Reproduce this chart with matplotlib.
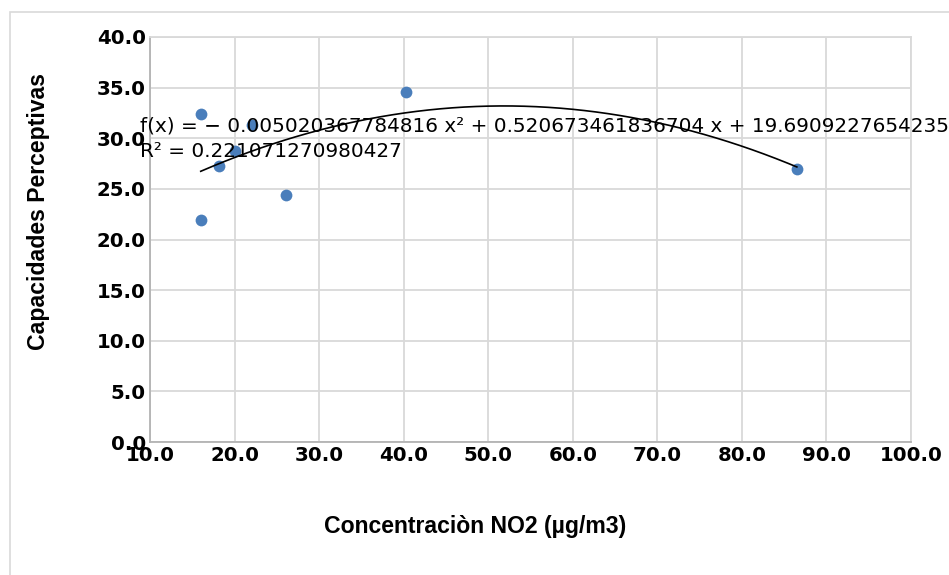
import numpy as np
import matplotlib
matplotlib.use('Agg')
import matplotlib.pyplot as plt
from matplotlib.patches import Rectangle

# NO2 concentration vs perceptive capacities
no2 = [16.0, 16.0, 18.2, 20.1, 22.1, 26.1, 40.3, 86.5]
capacidades = [32.4, 21.9, 27.3, 28.7, 31.3, 24.4, 34.6, 27.0]

# polynomial trendline (order 2) coefficients, highest power first
coef = [-0.005020367784816, 0.520673461836704, 19.6909227654235]
r2 = 0.221071270980427

xticks = np.arange(10, 101, 10)
yticks = np.arange(0, 41, 5)

fig = plt.figure(figsize=(9.49, 5.75), dpi=100)
ax = fig.add_axes([150/949, 1-442/575, 761/949, 405/575])

# outer chart border
fig.patches.append(Rectangle((10/949, -0.1), 1.2, 1.1 - 12/575, transform=fig.transFigure,
                             fill=False, edgecolor='#d9d9d9', linewidth=1.2))

ax.scatter(no2, capacidades, s=72, color='#4a7ebb', zorder=3, linewidths=0)

xs = np.linspace(min(no2), max(no2), 200)
ax.plot(xs, np.polyval(coef, xs), color='black', linewidth=1.2, zorder=4)

ax.set_xlim(10, 100)
ax.set_ylim(0, 40)
ax.set_xticks(xticks)
ax.set_yticks(yticks)
ax.set_xticklabels(['%.1f' % v for v in xticks])
ax.set_yticklabels(['%.1f' % v for v in yticks])
ax.tick_params(length=0, labelsize=14.2, pad=3)
for lab in ax.get_xticklabels() + ax.get_yticklabels():
    lab.set_fontweight('bold')
    lab.set_family('DejaVu Sans')

ax.grid(True, color='#d9d9d9', linewidth=1.3)
ax.set_axisbelow(True)
for sp in ax.spines.values():
    sp.set_color('#d9d9d9')
    sp.set_linewidth(1.3)
ax.spines['left'].set_color('#b3b3b3')
ax.spines['bottom'].set_color('#b3b3b3')

ax.set_xlabel('Concentraciòn NO2 (µg/m3)', family='Liberation Sans', fontweight='bold', fontsize=16.6)
ax.set_ylabel('Capacidades Perceptivas', family='Liberation Sans', fontweight='bold', fontsize=16.6)
ax.xaxis.set_label_coords(0.427, -0.18)
ax.yaxis.set_label_coords(-0.132, 0.568)

eq = 'f(x) = − %s x² + %s x + %s\nR² = %s' % (repr(-coef[0]), repr(coef[1]), repr(coef[2]), repr(r2))
fig.text(140/949, 1-117/575, eq, family='DejaVu Sans', fontsize=14.4, va='top', ha='left',
         linespacing=1.42)

fig.savefig('out.png', dpi=100)
